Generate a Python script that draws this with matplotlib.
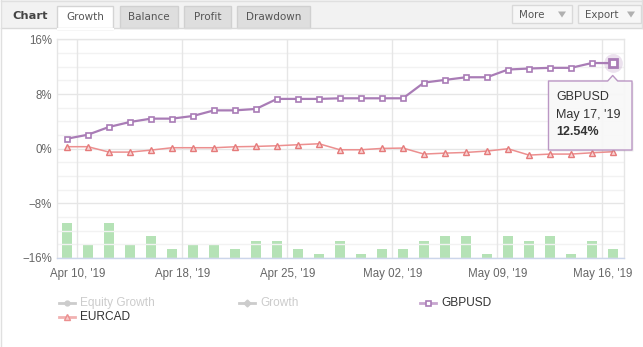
import matplotlib
matplotlib.use("Agg")
import matplotlib.pyplot as plt
from matplotlib.patches import Rectangle, Polygon
from matplotlib.lines import Line2D
import numpy as np

# ---------------- data ----------------
gbpusd = [1.47, 2.06, 3.19, 3.92, 4.41, 4.41, 4.80, 5.62, 5.62, 5.83, 7.30, 7.30, 7.30,
          7.39, 7.39, 7.39, 7.39, 9.69, 10.08, 10.47, 10.47, 11.60, 11.75, 11.85, 11.85,
          12.56, 12.54]
eurcad = [0.30, 0.30, -0.49, -0.49, -0.20, 0.15, 0.15, 0.15, 0.29, 0.34, 0.44, 0.59, 0.73,
          -0.15, -0.15, 0.05, 0.10, -0.78, -0.64, -0.54, -0.34, 0.00, -0.93, -0.78, -0.78,
          -0.59, -0.44]
trades = [8, 3, 8, 3, 5, 2, 3, 3, 2, 4, 4, 2, 1,
          4, 1, 2, 2, 4, 5, 5, 1, 5, 4, 5, 1, 4, 2]
xtick_pos = [0.5, 5.5, 10.5, 15.5, 20.5, 25.5]
xtick_labels = ["Apr 10, '19", "Apr 18, '19", "Apr 25, '19", "May 02, '19", "May 09, '19", "May 16, '19"]
ytick_vals = [16, 8, 0, -8, -16]
ytick_labels = ["16%", "8%", "0%", "\u22128%", "\u221216%"]
tabs = ["Growth", "Balance", "Profit", "Drawdown"]
legend_names = ["Equity Growth", "Growth", "GBPUSD", "EURCAD"]
tooltip_date = "May 17, '19"

W, H = 643, 347
PURPLE = "#a97cb6"
RED = "#ec8f8f"
GREEN = "#b5e2b6"
TXT = "#666666"

fig = plt.figure(figsize=(W / 100, H / 100), dpi=100)
fig.patch.set_facecolor("white")

# -------- background overlay (pixel coordinates) --------
bg = fig.add_axes([0, 0, 1, 1], zorder=0)
bg.set_xlim(0, W); bg.set_ylim(H, 0); bg.axis("off")

# tab bar
bg.add_patch(Rectangle((1, 0), W - 2, 28, facecolor="#f2f2f2", edgecolor="none"))
bg.plot([1, W - 1], [28, 28], color="#d9d9d9", lw=1)
bg.plot([1, 1], [0, H], color="#e0e0e0", lw=1)
bg.plot([W - 1.5, W - 1.5], [0, 28], color="#e0e0e0", lw=1)
bg.plot([1, W - 1], [0.5, 0.5], color="#e0e0e0", lw=1)
bg.text(12, 16, "Chart", fontsize=8.2, fontweight="bold", color="#444444",
        family="DejaVu Sans", va="center", ha="left")
tab_x = [(57, 113), (120, 178), (184, 231), (237, 310)]
for i, (name, (x0, x1)) in enumerate(zip(tabs, tab_x)):
    if i == 0:
        bg.add_patch(Rectangle((x0, 6), x1 - x0, 23, facecolor="white",
                               edgecolor="#d4d4d4", lw=1))
        bg.plot([x0 + 0.5, x1 - 0.5], [28.5, 28.5], color="white", lw=1.5)
    else:
        bg.add_patch(Rectangle((x0, 6), x1 - x0, 22, facecolor="#dedede",
                               edgecolor="#d0d0d0", lw=1))
    bg.text((x0 + x1) / 2, 17, name, fontsize=7.5, color="#555555",
            family="DejaVu Sans", va="center", ha="center")

# buttons
for (x0, x1, label) in [(512, 572, "More"), (578, 641, "Export")]:
    bg.add_patch(Rectangle((x0, 5), x1 - x0, 18, facecolor="#f7f7f7",
                           edgecolor="#d9d9d9", lw=1))
    bg.text(x0 + 7, 14.5, label, fontsize=7.4, color="#555555",
            family="DejaVu Sans", va="center", ha="left")
    tx = x1 - 10
    bg.add_patch(Polygon([[tx - 4, 11.5], [tx + 4, 11.5], [tx, 17.5]],
                         closed=True, facecolor="#b0b0b0", edgecolor="none"))

# legend
leg_items = [
    (59, 303, legend_names[0], "#cccccc", "o", "#cccccc", "#cccccc"),
    (239, 303, legend_names[1], "#cccccc", "D", "#cccccc", "#cccccc"),
    (420, 303, legend_names[2], "#c7a6cf", "s", PURPLE, "#333333"),
    (59, 317, legend_names[3], "#f1b2b2", "^", RED, "#333333"),
]
for (lx, ly, name, lc, mk, mc, tc) in leg_items:
    bg.add_line(Line2D([lx, lx + 16], [ly, ly], color=lc, lw=2))
    if mk == "s":
        bg.add_line(Line2D([lx + 8], [ly], marker="s", ms=3.6, mfc="white",
                           mec=mc, mew=1.2, ls="none"))
    elif mk == "^":
        bg.add_line(Line2D([lx + 8], [ly], marker="^", ms=4.2, mfc="#f6caca",
                           mec=mc, mew=1.0, ls="none"))
    else:
        bg.add_line(Line2D([lx + 8], [ly], marker=mk, ms=3.5, mfc=mc,
                           mec=mc, ls="none"))
    bg.text(lx + 21, ly, name, fontsize=8.6, color=tc, family="Liberation Sans",
            va="center", ha="left")

# -------- main plot --------
L, R, T, B = 57, 624, 39.5, 258
rect = [L / W, (H - B) / H, (R - L) / W, (B - T) / H]
ax2 = fig.add_axes(rect, zorder=1)
ax = fig.add_axes(rect, zorder=2, sharex=ax2)
ax.patch.set_visible(False)

x = np.arange(len(gbpusd))

# bars on a secondary scale
ax2.bar(x, trades, width=0.48, color=GREEN, edgecolor="none")
ax2.set_ylim(0, 50)
ax2.set_yticks([])
for s in ax2.spines.values():
    s.set_visible(False)
ax2.tick_params(bottom=False, labelbottom=False)

# grid
ax.set_xlim(-0.476, 26.524)
ax.set_ylim(-16, 16)
for yv in np.arange(-14, 16, 2):
    if yv % 8 != 0:
        ax.axhline(yv, color="#f2f2f2", lw=1, zorder=0)
for yv in ytick_vals:
    ax.axhline(yv, color="#e6e6e6", lw=1, zorder=0.5)
for xv in xtick_pos:
    ax.axvline(xv, color="#e6e6e6", lw=1, zorder=0.5)

# series
ax.plot(x, eurcad, color=RED, lw=1.1, marker="^", ms=4.2, mfc="#f8d4d4",
        mec="#e57a7a", mew=1.0, zorder=3)
ax.plot(x, gbpusd, color=PURPLE, lw=1.6, marker="s", ms=3.6, mfc="white",
        mec=PURPLE, mew=1.2, zorder=4)
# hovered last point
ax.plot(x[-1], gbpusd[-1], marker="o", ms=13.5, color=PURPLE, alpha=0.22,
        mec="none", zorder=4.5)
ax.plot(x[-1], gbpusd[-1], marker="s", ms=6.2, mfc="white", mec=PURPLE,
        mew=2.0, zorder=5)

ax.set_yticks(ytick_vals)
ax.set_yticklabels(ytick_labels)
ax.set_xticks(xtick_pos)
ax.set_xticklabels(xtick_labels)
ax.tick_params(axis="both", length=0, labelsize=8.3, colors=TXT)
ax.tick_params(axis="y", pad=3.5)
ax.tick_params(axis="x", pad=7)
for lab in ax.get_xticklabels() + ax.get_yticklabels():
    lab.set_family("Liberation Sans")
for k, s in ax.spines.items():
    s.set_color("#e6e6e6")
    s.set_linewidth(1)
ax.spines["bottom"].set_color("#ccd6eb")

# -------- tooltip overlay --------
fg = fig.add_axes([0, 0, 1, 1], zorder=6)
fg.set_xlim(0, W); fg.set_ylim(H, 0); fg.axis("off")
bx0, bx1, by0, by1 = 548.5, 632, 81, 150
tip_x = 612.7
pts = [[bx0, by0], [tip_x - 5, by0], [tip_x, 75.5], [tip_x + 5, by0], [bx1, by0],
       [bx1, by1], [bx0, by1]]
shadow = [[p[0] + 1.5, p[1] + 1.5] for p in pts]
fg.add_patch(Polygon(shadow, closed=True, facecolor="#000000", alpha=0.08,
                     edgecolor="none", joinstyle="round"))
fg.add_patch(Polygon(pts, closed=True, facecolor="#f9f9f9", alpha=0.95,
                     edgecolor="#b892c2", lw=1, joinstyle="round"))
fg.text(556.5, 96.5, legend_names[2], fontsize=9, color="#333333",
        family="Liberation Sans", va="center", ha="left")
fg.text(556.5, 114.5, tooltip_date, fontsize=9, color="#333333",
        family="Liberation Sans", va="center", ha="left")
fg.text(556.5, 132, f"{gbpusd[-1]:.2f}%", fontsize=9, color="#333333",
        fontweight="bold", family="Liberation Sans", va="center", ha="left")

fig.savefig("out.png", dpi=100, facecolor="white")
